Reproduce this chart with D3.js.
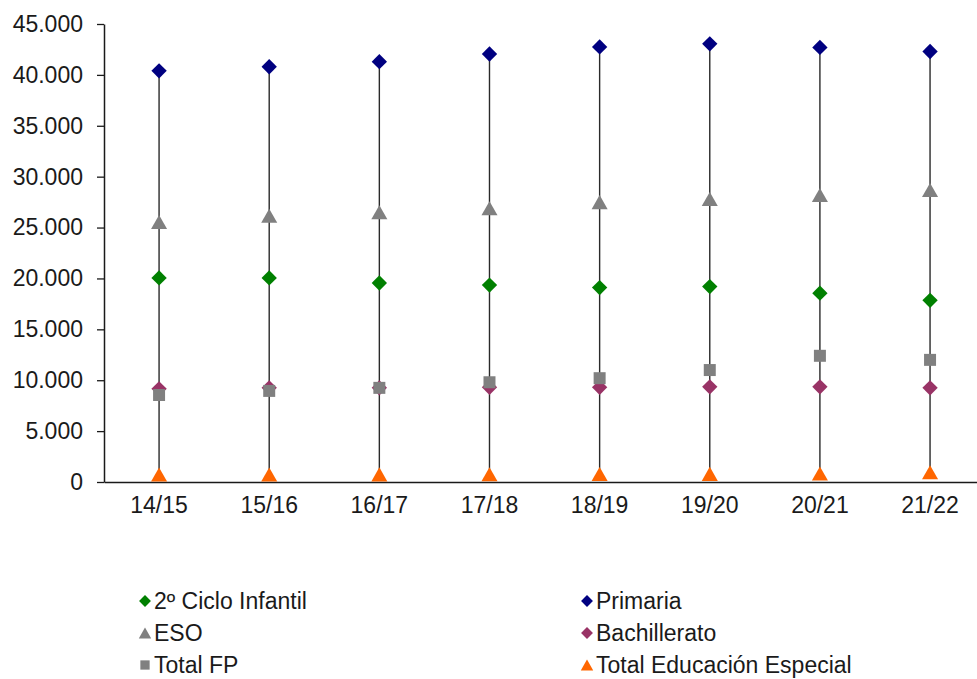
<!DOCTYPE html>
<html>
<head>
<meta charset="utf-8">
<script src="https://cdn.jsdelivr.net/npm/d3@7"></script>
<style>
  body { margin: 0; background: #fff; }
  text { font-family: "Liberation Sans", Arial, sans-serif; fill: #1a1a1a; }
</style>
</head>
<body>
<div id="vis"></div>
<script>
const FRAME_WIDTH = 977;
const FRAME_HEIGHT = 679;
const MARGINS = {left: 104, top: 24, bottom: 197};

// data
const cursos = ["14/15", "15/16", "16/17", "17/18", "18/19", "19/20", "20/21", "21/22"];
const infantil = [20050, 20050, 19550, 19350, 19100, 19200, 18550, 17850];
const primaria = [40400, 40800, 41300, 42050, 42750, 43050, 42700, 42300];
const eso = [25550, 26150, 26500, 26900, 27500, 27800, 28200, 28700];
const bachillerato = [9150, 9250, 9250, 9300, 9300, 9350, 9350, 9250];
const totalFP = [8550, 8950, 9250, 9800, 10200, 11000, 12400, 12000];
const especial = [730, 740, 750, 760, 780, 800, 830, 950];
const yTicks = [0, 5000, 10000, 15000, 20000, 25000, 30000, 35000, 40000, 45000];

// Excel style triangle, centred on its bounding box
const triangleBox = {
  draw(ctx, size) {
    const w = Math.sqrt(size) * 1.07;
    const h = w * 0.875;
    ctx.moveTo(0, -h / 2);
    ctx.lineTo(w / 2, h / 2);
    ctx.lineTo(-w / 2, h / 2);
    ctx.closePath();
  }
};

const SERIES = [
  {name: "2º Ciclo Infantil", values: infantil, color: "#008000", type: d3.symbolDiamond2, size: 150},
  {name: "Primaria", values: primaria, color: "#000080", type: d3.symbolDiamond2, size: 150},
  {name: "ESO", values: eso, color: "#808080", type: triangleBox, size: 225},
  {name: "Bachillerato", values: bachillerato, color: "#993366", type: d3.symbolDiamond2, size: 150},
  {name: "Total FP", values: totalFP, color: "#808080", type: d3.symbolSquare, size: 144},
  {name: "Total Educación Especial", values: especial, color: "#FF6600", type: triangleBox, size: 225}
];

const svg = d3.select("#vis")
  .append("svg")
    .attr("width", FRAME_WIDTH)
    .attr("height", FRAME_HEIGHT);

const X_SCALE = d3.scaleBand()
  .domain(cursos)
  .range([MARGINS.left, MARGINS.left + 110.14 * cursos.length]);

const Y_SCALE = d3.scaleLinear()
  .domain([0, 45000])
  .range([FRAME_HEIGHT - MARGINS.bottom, MARGINS.top]);

const cx = (c) => X_SCALE(c) + X_SCALE.bandwidth() / 2;

const es = d3.formatLocale({decimal: ",", thousands: ".", grouping: [3], currency: ["", " €"]});
const fmt = es.format(",d");

// y axis
const yAxis = svg.append("g")
  .attr("transform", "translate(" + MARGINS.left + ",0)")
  .call(d3.axisLeft(Y_SCALE).tickValues(yTicks).tickFormat(fmt).tickSize(7).tickSizeOuter(0).tickPadding(14));
yAxis.select(".domain").attr("stroke", "#1a1a1a").attr("stroke-width", 1.5);
yAxis.selectAll(".tick line").attr("stroke", "#1a1a1a").attr("stroke-width", 1.3);
yAxis.selectAll(".tick text")
  .attr("font-size", "23px")
  .attr("font-family", "Liberation Sans, Arial, sans-serif")
  .attr("fill", "#1a1a1a");

// x axis
const xAxis = svg.append("g")
  .attr("transform", "translate(0," + Y_SCALE(0) + ")")
  .call(d3.axisBottom(X_SCALE).tickSize(0).tickSizeOuter(0).tickPadding(15));
xAxis.select(".domain").attr("stroke", "#1a1a1a").attr("stroke-width", 1.5);
xAxis.selectAll(".tick text")
  .attr("font-size", "23px")
  .attr("font-family", "Liberation Sans, Arial, sans-serif")
  .attr("fill", "#1a1a1a");

// high-low lines
svg.append("g").selectAll("line")
  .data(cursos)
  .enter()
  .append("line")
    .attr("x1", (d) => cx(d))
    .attr("x2", (d) => cx(d))
    .attr("y1", (d, i) => Y_SCALE(d3.max(SERIES, (s) => s.values[i])))
    .attr("y2", (d, i) => Y_SCALE(d3.min(SERIES, (s) => s.values[i])))
    .attr("stroke", "#2a2a2a")
    .attr("stroke-width", 1.4);

// markers
SERIES.forEach((s) => {
  svg.append("g").selectAll("path")
    .data(s.values)
    .enter()
    .append("path")
      .attr("d", d3.symbol().type(s.type).size(s.size))
      .attr("transform", (d, i) => "translate(" + cx(cursos[i]) + "," + Y_SCALE(d) + ")")
      .attr("fill", s.color);
});

// legend
const LEGEND_COLS = [145, 587];
const LEGEND_ROWS = [601, 633, 665];
const legend = svg.append("g");
SERIES.forEach((s, i) => {
  const x = LEGEND_COLS[i % 2];
  const y = LEGEND_ROWS[Math.floor(i / 2)];
  legend.append("path")
    .attr("d", d3.symbol().type(s.type).size(s.size * 0.6))
    .attr("transform", "translate(" + x + "," + y + ")")
    .attr("fill", s.color);
  legend.append("text")
    .attr("x", x + 9)
    .attr("y", y)
    .attr("dy", "0.35em")
    .attr("font-size", "23px")
    .text(s.name);
});
</script>
</body>
</html>
